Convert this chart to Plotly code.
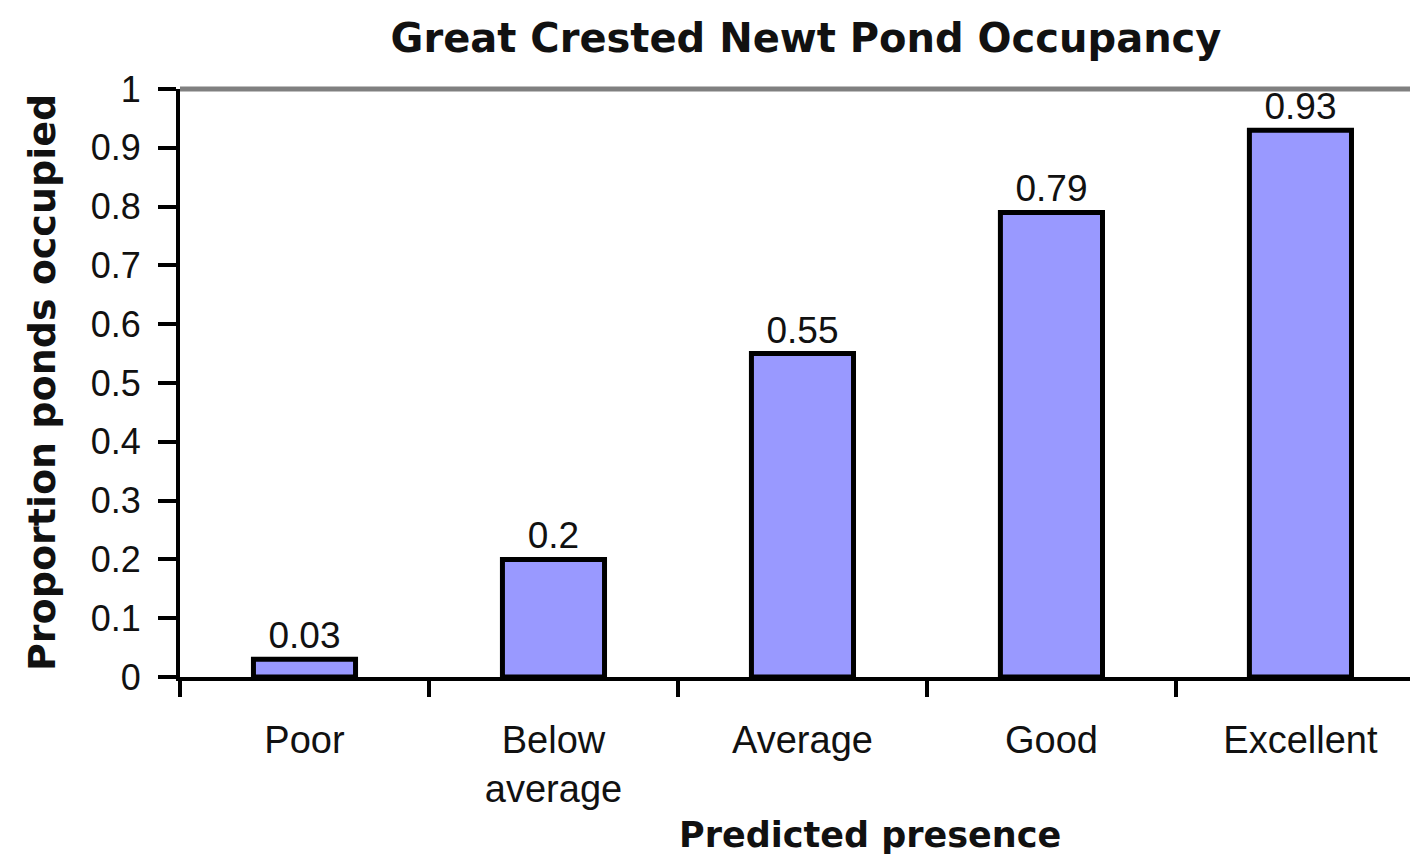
import plotly.graph_objects as go

categories = ["Poor", "Below<br>average", "Average", "Good", "Excellent"]
values = [0.03, 0.2, 0.55, 0.79, 0.93]
value_labels = ["0.03", "0.2", "0.55", "0.79", "0.93"]
y_ticks = [0, 0.1, 0.2, 0.3, 0.4, 0.5, 0.6, 0.7, 0.8, 0.9, 1]
y_tick_text = ["0", "0.1", "0.2", "0.3", "0.4", "0.5", "0.6", "0.7", "0.8", "0.9", "1"]

TXT = "#111111"
fig = go.Figure(go.Bar(
    x=categories, y=values, text=value_labels, textposition="outside",
    textfont=dict(family="Liberation Sans, Arial", size=37, color=TXT),
    cliponaxis=False, width=0.41,
    marker=dict(color="#9999FF", line=dict(color="black", width=5)),
))

fig.update_layout(
    width=1410, height=864,
    margin=dict(l=180, r=0, t=89, b=187),
    paper_bgcolor="white", plot_bgcolor="white",
    showlegend=False,
    title=dict(text="<b>Great Crested Newt Pond Occupancy</b>",
               x=806 / 1410, xanchor="center", y=1 - 38 / 864, yanchor="middle",
               font=dict(family="DejaVu Sans", size=40, color=TXT)),
    xaxis=dict(type="category", range=[-0.5, 4.44], tickson="boundaries",
               showline=True, linecolor="black", linewidth=4,
               ticks="outside", ticklen=16, tickwidth=4, tickcolor="black",
               showgrid=False, zeroline=False, ticklabelstandoff=26,
               tickfont=dict(family="Liberation Sans, Arial", size=38, color=TXT)),
    yaxis=dict(range=[0, 1], tickvals=y_ticks, ticktext=y_tick_text,
               showline=True, linecolor="black", linewidth=4,
               ticks="outside", ticklen=18, tickwidth=4, tickcolor="black",
               showgrid=False, zeroline=False, ticklabelstandoff=10,
               tickfont=dict(family="Liberation Sans, Arial", size=36, color=TXT)),
)

fig.add_shape(type="line", xref="paper", yref="paper", x0=0, x1=1.05, y0=1, y1=1,
              line=dict(color="#808080", width=5), layer="below")

fig.add_annotation(text="<b>Predicted presence</b>", xref="paper", yref="paper",
                   x=(870 - 180) / 1230, y=(677 - 835) / 588,
                   xanchor="center", yanchor="middle", showarrow=False,
                   font=dict(family="DejaVu Sans", size=35, color=TXT))
fig.add_annotation(text="<b>Proportion ponds occupied</b>", xref="paper", yref="paper",
                   x=(42 - 180) / 1230, y=(677 - 383) / 588, textangle=-90,
                   xanchor="center", yanchor="middle", showarrow=False,
                   font=dict(family="DejaVu Sans", size=38, color=TXT))

fig.write_html("out.html")
